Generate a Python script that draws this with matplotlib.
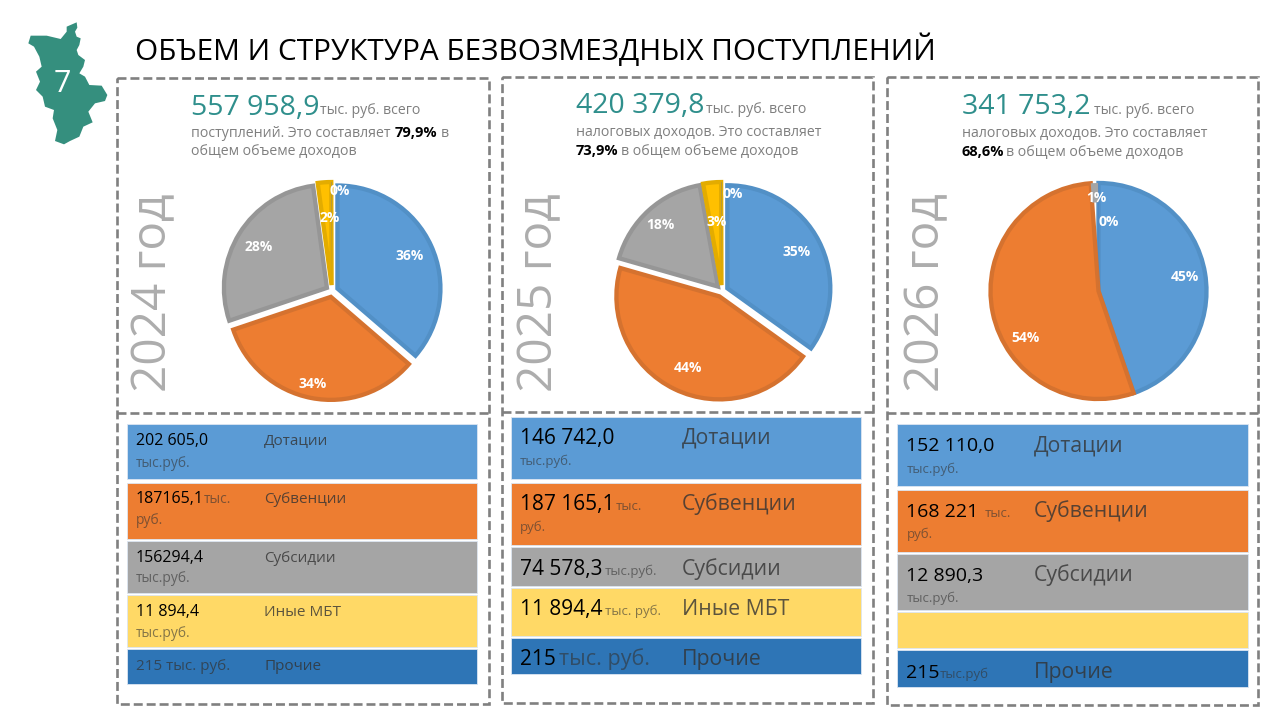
import matplotlib
matplotlib.use('Agg')
import matplotlib.pyplot as plt
from matplotlib.patches import Polygon, Rectangle

plt.rcParams['font.family'] = ['Open Sans', 'DejaVu Sans']

W, H = 1278, 718

title = 'ОБЪЕМ И СТРУКТУРА БЕЗВОЗМЕЗДНЫХ ПОСТУПЛЕНИЙ'
years = ['2024 год', '2025 год', '2026 год']
totals = ['557 958,9', '420 379,8', '341 753,2']
shares_of_income = ['79,9%', '73,9%', '68,6%']

categories = ['Дотации', 'Субвенции', 'Субсидии', 'Иные МБТ', 'Прочие']
pie_2024 = [36.3, 33.5, 28.0, 2.1, 0.05]
pie_2025 = [34.9, 44.5, 17.7, 2.8, 0.05]
pie_2026 = [44.7, 54.1, 1.1, 0.0, 0.05]
labels_2024 = ['36%', '34%', '28%', '2%', '0%']
labels_2025 = ['35%', '44%', '18%', '3%', '0%']
labels_2026 = ['45%', '54%', '1%', '', '0%']

amounts_2024 = ['202 605,0', '187165,1', '156294,4', '11 894,4', '215 тыс. руб.']
amounts_2025 = ['146 742,0', '187 165,1', '74 578,3', '11 894,4', '215']
amounts_2026 = ['152 110,0', '168 221', '12 890,3', '', '215']

fills = ['#5B9BD5', '#ED7D31', '#A5A5A5', '#FFD966', '#2E75B6']
pie_fills = ['#5B9BD5', '#ED7D31', '#A5A5A5', '#FFC000', '#4472C4']
pie_edges = ['#5290C6', '#D5722F', '#969696', '#E3AC00', '#4472C4']
TEAL = '#2F8F8C'
GREY = '#7F7F7F'
DIM = '#333333'

fig = plt.figure(figsize=(W / 100, H / 100), dpi=100, facecolor='white')


def draw_pie(values, labels, cx, cy, r, expl, label_xy):
    # оси на весь круг, 1.25 - это пределы которые ставит сам pie
    side = r * 2.5
    ax = fig.add_axes([(cx - side / 2) / W, 1 - (cy + side / 2) / H, side / W, side / H])
    wedges, _ = ax.pie(values, explode=[expl] * len(values), startangle=90, counterclock=False,
                       colors=pie_fills, radius=1)
    for w, col, v in zip(wedges, pie_edges, values):
        w.set_edgecolor(col)
        w.set_linewidth(3.1 if v > 2 else 0)
        w.set_joinstyle('miter')
        # узкий сектор виден только у края, к центру его закрывают соседние
        if 0.5 < v < 2:
            w.set_width(0.18)
            w.set_zorder(3)
    for lab, (x, y) in zip(labels, label_xy):
        if lab:
            main.text(x, y, lab, color='white', fontsize=10, fontweight='bold', ha='center', va='center')


# главные оси в пикселях картинки, поверх кругов
main = fig.add_axes([0, 0, 1, 1], zorder=5)
main.set_xlim(0, W)
main.set_ylim(H, 0)
main.axis('off')
main.patch.set_alpha(0)


def txt(x, y, s, size=10.2, color=GREY, weight='normal', alpha=1):
    main.text(x, y, s, fontsize=size, color=color, fontweight=weight, alpha=alpha,
              ha='left', va='baseline')


map_outline = [(170, 22), (172, 38), (165, 50), (170, 65), (182, 70), (178, 90), (170, 105), (175, 120),
               (195, 135), (190, 155), (178, 175), (195, 185), (208, 210), (245, 212), (262, 240),
               (255, 258), (225, 265), (205, 290), (218, 322), (190, 335), (178, 365), (150, 378),
               (132, 388), (105, 378), (112, 345), (98, 310), (102, 285), (75, 275), (68, 245),
               (48, 225), (60, 200), (48, 170), (65, 155), (58, 125), (42, 95), (25, 85), (32, 62),
               (80, 62), (122, 72), (140, 50), (140, 35)]
main.add_patch(Polygon([(20 + x / 3, 15 + y / 3) for x, y in map_outline], closed=True,
                       fc='#358F7E', ec='none'))
main.text(62, 84, '7', color='white', fontsize=22, ha='center', va='center')

txt(135, 60, title, size=21.4, color='black')

# рамки
dash = (0, (3.4, 1.5))
frames = [(117, 78, 489, 413, 704), (502, 77, 873, 412, 703), (887, 77, 1258, 413, 705)]
for x0, y0, x1, ym, y1 in frames:
    main.add_patch(Rectangle((x0, y0), x1 - x0, y1 - y0, fc='none', ec='#808080', lw=1.9, ls=dash))
    main.plot([x0, x1], [ym, ym], color='#808080', lw=1.9, ls=dash)

# шапки панелей
txt(191, 115, totals[0], size=20.5, color=TEAL)
txt(320, 114, 'тыс. руб. всего')
txt(191, 137, 'поступлений. Это составляет')
txt(395, 137, shares_of_income[0], size=10.5, color='black', weight='bold')
txt(441, 137, 'в')
txt(191, 155, 'общем объеме доходов')

txt(576, 113, totals[1], size=20.5, color=TEAL)
txt(706, 113, 'тыс. руб. всего')
txt(576, 136, 'налоговых доходов. Это составляет')
txt(576, 155, shares_of_income[1], size=10.5, color='black', weight='bold')
txt(621, 155, 'в общем объеме доходов')

txt(962, 114, totals[2], size=20.5, color=TEAL)
txt(1094, 114, 'тыс. руб. всего')
txt(962, 137, 'налоговых доходов. Это составляет')
txt(962, 156, shares_of_income[2], size=10.5, color='black', weight='bold')
txt(1006, 156, 'в общем объеме доходов')

# подписи годов
for (x, y), yr in zip([(166, 392), (552, 392), (939, 392)], years):
    main.text(x, y, yr, rotation=90, rotation_mode='anchor', ha='left', va='baseline',
              fontsize=34.5, color='#ADADAD')

draw_pie(pie_2024, labels_2024, 332, 291, 103, 0.058,
         [(410, 256), (313, 384), (259, 247), (330, 218), (340, 191)])
draw_pie(pie_2025, labels_2025, 722, 291, 103, 0.058,
         [(797, 252), (688, 368), (660, 225), (717, 222), (733, 194)])
draw_pie(pie_2026, labels_2026, 1098.5, 291, 108, 0,
         [(1185, 277), (1025, 338), (1096, 198), (0, 0), (1109, 222)])


def draw_rows(x0, x1, rows, fsize, lsize, num_x, lab_x, amounts, units, bases):
    for (top, bot), col in zip(rows, fills):
        main.add_patch(Rectangle((x0, top), x1 - x0, bot - top, fc=col, ec='#DCE6F2', lw=0.6))
    for i, (amount, cat) in enumerate(zip(amounts, categories)):
        base = bases[i]
        if amount:
            # в 2024 строка "Прочие" набрана целиком тусклым
            dim = 'руб' in amount
            txt(num_x, base, amount, size=11 if dim else fsize,
                color=DIM if dim else 'black', alpha=0.7 if dim else 1)
        if amount or i != 3:
            txt(lab_x, base, cat, size=lsize, color=DIM, alpha=0.8)
    for ux, uy, s, sz in units:
        txt(ux, uy, s, size=sz, color=DIM, alpha=0.6)


draw_rows(127, 477, [(424, 479), (483, 539), (541, 593), (595, 647), (649, 684)],
          11.5, 11, 136, 264, amounts_2024,
          [(136, 467, 'тыс.руб.', 10), (204, 503, 'тыс.', 10), (136, 524, 'руб.', 10),
           (136, 582, 'тыс.руб.', 10), (136, 637, 'тыс.руб.', 10)],
          [445, 503, 562, 616, 670])
draw_rows(511, 861, [(417, 479), (483, 545), (547, 586), (588, 636), (638, 674)],
          15, 15.3, 520, 682, amounts_2025,
          [(520, 465, 'тыс.руб.', 9.5), (616, 510, 'тыс.', 9.5), (520, 531, 'руб.', 9.5),
           (605, 575, 'тыс.руб.', 9.5), (605, 615, 'тыс. руб.', 9.5), (559, 665, 'тыс. руб.', 15.5)],
          [444, 510, 575, 615, 665])
draw_rows(897, 1248, [(424, 486), (490, 552), (554, 610), (612, 648), (650, 687)],
          14, 15.3, 906, 1034, amounts_2026,
          [(907, 473, 'тыс.руб.', 9.5), (985, 517, 'тыс.', 9.5), (907, 538, 'руб.', 9.5),
           (907, 602, 'тыс.руб.', 9.5), (940, 678, 'тыс.руб', 9.5)],
          [451, 517, 581, 0, 678])

fig.savefig('out.png', dpi=100)
